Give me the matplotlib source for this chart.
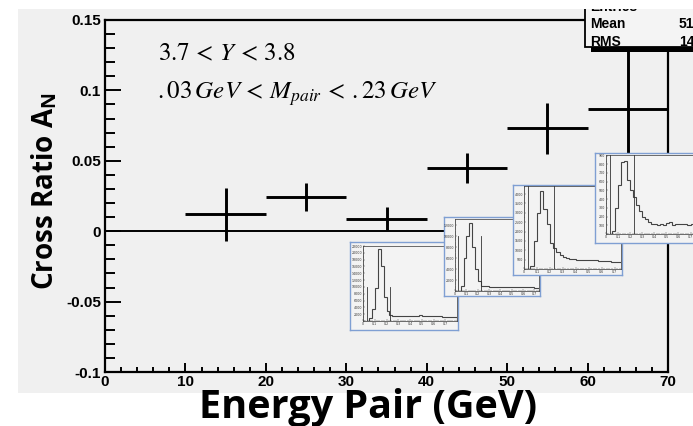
import numpy as np
import matplotlib
matplotlib.use('Agg')
import matplotlib.pyplot as plt
from matplotlib.patches import Rectangle
from matplotlib.ticker import MultipleLocator, AutoMinorLocator

# A_N vs pair energy
energy = [15, 25, 35, 45, 55, 65]
energy_err = [5, 5, 5, 5, 5, 5]
an = [0.012, 0.024, 0.009, 0.045, 0.073, 0.087]
an_err = [0.019, 0.010, 0.0085, 0.0107, 0.018, 0.065]

y_ticks = [-0.1, -0.05, 0, 0.05, 0.1, 0.15]
y_tick_labels = ['-0.1', '-0.05', '0', '0.05', '0.1', '0.15']
x_ticks = [0, 10, 20, 30, 40, 50, 60, 70]

# pair mass spectra (counts per 0.025 GeV) for the 30-70 GeV bins
mass_edges = np.linspace(0, 0.8, 33)
mass_ticks = [0, 0.1, 0.2, 0.3, 0.4, 0.5, 0.6, 0.7]
mass_35 = [0, 100, 800, 3600, 9800, 21000, 16000, 7000, 3000, 1700,
           1500, 1450, 1400, 1400, 1400, 1450, 1500, 1550, 1600, 1650,
           1600, 1600, 1550, 1500, 1450, 1400, 1350, 1300, 1250, 1200,
           1150, 1100]
mass_45 = [0, 50, 1000, 6000, 10000, 12400, 8000, 4000, 1800, 1000,
           900, 850, 800, 800, 780, 760, 750, 740, 730, 720,
           700, 700, 690, 680, 670, 660, 650, 640, 630, 620,
           610, 600]
mass_55 = [0, 0, 150, 1500, 3000, 4150, 3200, 2400, 1400, 1100,
           900, 750, 650, 600, 550, 520, 500, 500, 480, 500,
           480, 470, 480, 450, 440, 430, 420, 400, 380, 360,
           350, 340]
mass_65 = [0, 0, 30, 300, 560, 830, 840, 620, 500, 420,
           330, 260, 200, 170, 140, 110, 120, 100, 110, 100,
           130, 140, 100, 110, 120, 110, 120, 100, 110, 100,
           110, 100]
mass_cut = [0.03, 0.23]

stat_names = ['Entries', 'Mean', 'RMS']
stat_values = ['', '51', '14']

W, H = 693, 426


def rect(l, t, r, b):
    # pixel box (from top-left) -> figure fraction
    return [l / W, 1 - b / H, (r - l) / W, (b - t) / H]


def fx(x):
    return x / W


def fy(y):
    return 1 - y / H


plt.rcParams['axes.unicode_minus'] = False
plt.rcParams['mathtext.fontset'] = 'stix'

fig = plt.figure(figsize=(W / 100, H / 100), dpi=100, facecolor='white')

# grey canvas
fig.patches.append(Rectangle((fx(18), fy(393)), fx(693) - fx(18), fy(9) - fy(393),
                             transform=fig.transFigure, facecolor='#f0f0f0',
                             edgecolor='none', zorder=-1))

ax = fig.add_axes(rect(105, 20, 668, 372), facecolor='#f0f0f0')
ax.set_xlim(0, 70)
ax.set_ylim(-0.1, 0.15)
for s in ax.spines.values():
    s.set_linewidth(1.6)
ax.axhline(0, color='black', lw=1.4, zorder=1)
ax.errorbar(energy, an, xerr=energy_err, yerr=an_err, fmt='none',
            ecolor='black', elinewidth=2.1, capsize=0, zorder=2)

ax.set_xticks(x_ticks, labels=[str(v) for v in x_ticks])
ax.set_yticks(y_ticks, labels=y_tick_labels)
ax.xaxis.set_minor_locator(MultipleLocator(2))
ax.yaxis.set_minor_locator(MultipleLocator(0.01))
ax.tick_params(axis='x', which='major', direction='in', length=6.5, width=1.4, pad=2)
ax.tick_params(axis='x', which='minor', direction='in', length=3.6, width=1.4)
ax.tick_params(axis='y', which='major', direction='in', length=11.5, width=1.4, pad=3)
ax.tick_params(axis='y', which='minor', direction='in', length=7, width=1.4)
for lab in ax.get_xticklabels() + ax.get_yticklabels():
    lab.set_fontfamily('Liberation Sans')
    lab.set_fontweight('bold')
    lab.set_fontsize(11)

ax.text(0.094, 0.886, r'$3.7 \,<\, Y \,<\, 3.8$', transform=ax.transAxes,
        fontsize=18, va='baseline', ha='left')
ax.text(0.092, 0.776, r'$.03\,GeV \,<\, M_{pair} \,<\, .23\,GeV$', transform=ax.transAxes,
        fontsize=18, va='baseline', ha='left')

fig.text(fx(368), fy(418), 'Energy Pair (GeV)', ha='center', va='baseline',
         fontfamily='Open Sans', fontweight='bold', fontsize=28.5)
fig.text(fx(53), fy(290), r'Cross Ratio A$_\mathregular{N}$', rotation=90,
         rotation_mode='anchor', ha='left', va='baseline',
         fontfamily='Open Sans', fontweight='bold', fontsize=20)

# mass spectrum insets
insets = [
    (mass_35, (350, 242, 458, 330), (363, 246, 457, 321), 0.80, 22000, 2000, 0.45),
    (mass_45, (444, 217, 540, 296), (455, 219, 539, 291), 0.74, 13100, 2000, 0.77),
    (mass_55, (513, 185, 622, 275), (524, 186, 621, 269), 0.75, 4430, 500, 1.0),
    (mass_65, (595, 153, 705, 243), (606, 155, 705, 234), 0.82, 906, 100, 1.0),
]
for counts, outer, inner, xmax, ymax, ystep, cut_h in insets:
    bg = fig.add_axes(rect(*outer), facecolor='#f3f3f3')
    bg.set_xticks([])
    bg.set_yticks([])
    for s in bg.spines.values():
        s.set_color('#7f9fd3')
        s.set_linewidth(1.0)
    ia = fig.add_axes(rect(*inner), facecolor='none')
    ia.stairs(counts, mass_edges, color='#444444', lw=0.8)
    for c in mass_cut:
        ia.axvline(c, ymax=cut_h, color='#333333', lw=0.6)
    ia.set_xlim(0, xmax)
    ia.set_ylim(0, ymax)
    ia.set_xticks(mass_ticks, labels=[f'{v:g}' for v in mass_ticks])
    ia.yaxis.set_major_locator(MultipleLocator(ystep))
    ia.xaxis.set_minor_locator(AutoMinorLocator(5))
    ia.yaxis.set_minor_locator(AutoMinorLocator(5))
    ia.set_yticklabels(['' if v == 0 else f'{v:g}' for v in ia.get_yticks()])
    ia.tick_params(which='both', direction='in', width=0.3, labelsize=2.3, pad=0.6,
                   colors='#333333')
    ia.tick_params(which='major', length=1.6)
    ia.tick_params(which='minor', length=0.9)
    for s in ia.spines.values():
        s.set_linewidth(0.5)
        s.set_color('#333333')

# statistics box
fig.patches.append(Rectangle((fx(591), fy(52)), fx(710) - fx(591), fy(47) - fy(52),
                             transform=fig.transFigure, facecolor='black',
                             edgecolor='none', zorder=10))
fig.patches.append(Rectangle((fx(585), fy(47)), fx(710) - fx(585), fy(0) - fy(47),
                             transform=fig.transFigure, facecolor='#f4f4f4',
                             edgecolor='black', lw=1.3, zorder=11))
for name, val, base in zip(stat_names, stat_values, [11, 28, 45.5]):
    fig.text(fx(590), fy(base), name, ha='left', va='baseline', fontsize=10,
             fontfamily='Liberation Sans', fontweight='bold', zorder=12)
    fig.text(fx(679), fy(base), val, ha='left', va='baseline', fontsize=10,
             fontfamily='Liberation Sans', fontweight='bold', zorder=12)

# white page strip above the canvas
fig.patches.append(Rectangle((0, fy(9)), 1, 1 - fy(9), transform=fig.transFigure,
                             facecolor='white', edgecolor='none', zorder=13))

fig.savefig('out.png', dpi=100)
